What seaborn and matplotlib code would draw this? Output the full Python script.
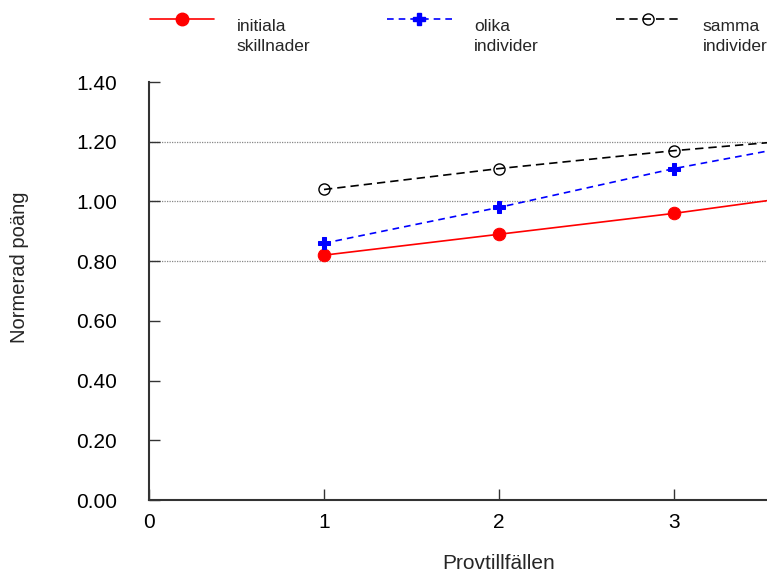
import numpy as np
import pandas as pd
import seaborn as sns
import matplotlib.pyplot as plt
from matplotlib.lines import Line2D

# values
provtillfalle = [1, 2, 3, 4]
initiala = [0.82, 0.89, 0.96, 1.04]
olika = [0.86, 0.98, 1.11, 1.22]
samma = [1.04, 1.11, 1.17, 1.22]
labels = ["initiala\nskillnader", "olika\nindivider", "samma\nindivider"]
yticks = [0.0, 0.2, 0.4, 0.6, 0.8, 1.0, 1.2, 1.4]
xticks = [0, 1, 2, 3]
gridlines = [0.8, 1.0, 1.2]

sns.set_style("ticks")
plt.rcParams['font.family'] = ['Liberation Sans', 'DejaVu Sans']

df = pd.DataFrame({"x": provtillfalle, "initiala": initiala, "olika": olika, "samma": samma})

fig = plt.figure(figsize=(7.67, 5.75), dpi=100)
# axes runs on to x=4, past the right edge of the picture (as in the original)
ax = fig.add_axes([149/767, 75/575, 700/767, 418/575])

for g in gridlines:
    ax.axhline(g, color="#888888", lw=0.9, ls=(0, (1, 1)), zorder=0)

sns.lineplot(data=df, x="x", y="initiala", ax=ax, color="red", lw=1.2,
             marker="o", markersize=9, markeredgecolor="red")
sns.lineplot(data=df, x="x", y="olika", ax=ax, color="blue", lw=1.2,
             linestyle=(0, (4, 3)), marker="P", markersize=9, markeredgecolor="blue")
sns.lineplot(data=df, x="x", y="samma", ax=ax, color="black", lw=1.2,
             linestyle=(0, (5, 3)), marker="o", markersize=8,
             markerfacecolor="none", markeredgecolor="black", markeredgewidth=1)

ax.set_xlim(0, 4)
ax.set_ylim(0, 1.4)
ax.set_xticks(xticks)
ax.set_xticklabels([str(t) for t in xticks])
ax.set_yticks(yticks)
ax.set_yticklabels([f"{t:.2f}" for t in yticks])
ax.tick_params(direction="in", length=8, width=1, colors="#333333", labelsize=15,
               labelcolor="black")
ax.tick_params(axis="y", pad=23)
ax.tick_params(axis="x", pad=9)
ax.set_xlabel("Provtillfällen", fontsize=15, labelpad=16)
ax.set_ylabel("Normerad poäng", fontsize=14.5)
ax.yaxis.set_label_coords(-0.171, 0.557)
sns.despine(ax=ax)
for s in ["left", "bottom"]:
    ax.spines[s].set_linewidth(1.5)
    ax.spines[s].set_color("#333333")

handles = [
    Line2D([], [], color="red", lw=1.2, marker="o", markersize=9),
    Line2D([], [], color="blue", lw=1.2, ls=(0, (4, 3)), marker="P", markersize=9),
    Line2D([], [], color="black", lw=1.2, ls=(0, (5, 3)), marker="o", markersize=8,
           markerfacecolor="none"),
]
leg = fig.legend(handles, labels, loc="upper left", bbox_to_anchor=(0.177, 0.991),
                 ncol=3, frameon=False, fontsize=12.5, handlelength=3.7,
                 columnspacing=4.45, handletextpad=1.3, borderaxespad=0.4)
for t in leg.get_texts():
    t.set_linespacing(1.45)
# handles sit level with the first text line
for h in leg.legend_handles:
    h.set_ydata(np.asarray(h.get_ydata()) + 13)

fig.savefig("out.png", dpi=100)
